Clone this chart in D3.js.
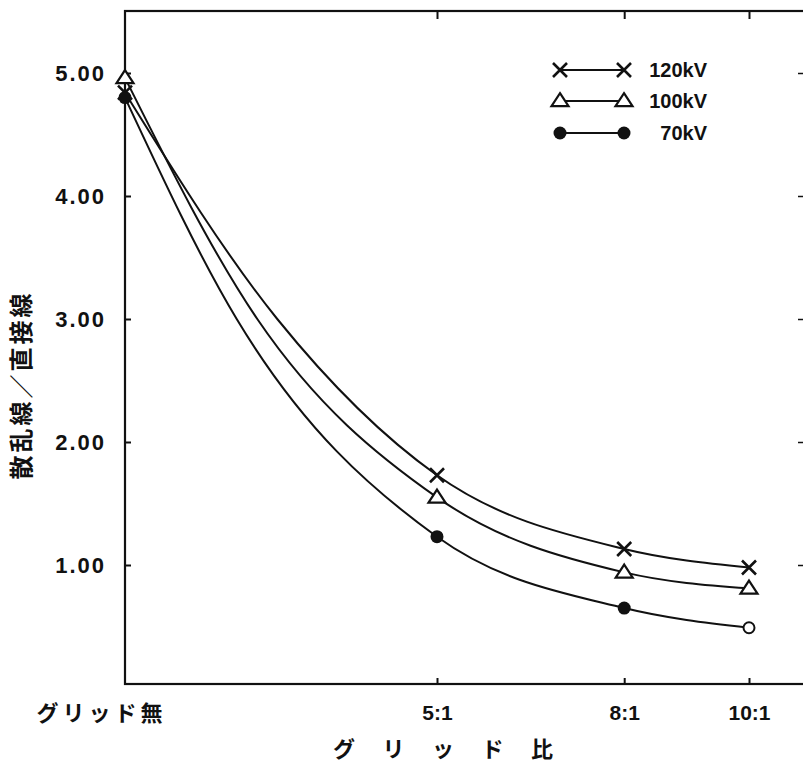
<!DOCTYPE html>
<html><head><meta charset="utf-8">
<script src="https://cdn.jsdelivr.net/npm/d3@7"></script>
<style>body{margin:0;background:#fff}</style>
</head><body>
<svg id="c" width="803" height="764"></svg>
<script>
// data points (markers)
const gridRatios = [0, 5, 8, 10];
const xTickLabels = ["グリッド無", "5:1", "8:1", "10:1"];
const yTicks = [1, 2, 3, 4, 5];
const v120 = [4.84, 1.73, 1.13, 0.98];
const v100 = [4.96, 1.55, 0.94, 0.81];
const v70 = [4.80, 1.23, 0.65, 0.49];
const seriesNames = ["120kV", "100kV", "70kV"];
const yTitle = "散乱線／直接線";
const xTitle = "グリッド比";

// hand-drawn curve path (grid ratio, value)
const trace120X = [0, 2.44, 5, 8, 10];
const trace120Y = [4.84, 3.0, 1.73, 1.13, 0.98];
const trace100X = [0, 2.12, 5, 8, 10];
const trace100Y = [4.96, 3.0, 1.55, 0.94, 0.81];
const trace70X = [0, 1.79, 5, 8, 10];
const trace70Y = [4.80, 3.0, 1.23, 0.65, 0.49];

const series = [
  {name: seriesNames[0], values: v120, marker: "x", tx: trace120X, ty: trace120Y},
  {name: seriesNames[1], values: v100, marker: "tri", tx: trace100X, ty: trace100Y},
  {name: seriesNames[2], values: v70, marker: "dot", tx: trace70X, ty: trace70Y}
];

const svg = d3.select("#c");
const L = 125, T = 11, R = 806, B = 684;
const x = d3.scaleLinear().domain([0, 10]).range([L, 749]);
const y = d3.scaleLinear().domain([0, 5]).range([688, 73]);
const ink = "#111";
const numFont = "'Liberation Sans', 'DejaVu Sans', sans-serif";
const jpFont = "'Noto Sans CJK JP', sans-serif";

// frame
svg.append("rect").attr("x", L).attr("y", T).attr("width", R - L).attr("height", B - T)
  .attr("fill", "none").attr("stroke", ink).attr("stroke-width", 2.2);

// left axis ticks (inward)
const gy = svg.append("g").attr("transform", `translate(${L},0)`)
  .call(d3.axisLeft(y).tickValues(yTicks).tickSize(-6).tickFormat(d3.format(".2f")).tickPadding(19));
gy.select(".domain").remove();
gy.selectAll("line").attr("stroke", ink).attr("stroke-width", 2);
gy.selectAll("text").attr("font-family", numFont).attr("font-size", 22).attr("font-weight", "bold")
  .attr("fill", ink).style("letter-spacing", "2px");

// right axis ticks
const gr = svg.append("g").attr("transform", `translate(${R},0)`)
  .call(d3.axisRight(y).tickValues(yTicks).tickSize(-8).tickFormat(""));
gr.select(".domain").remove();
gr.selectAll("line").attr("stroke", ink).attr("stroke-width", 1.5);

// bottom axis
const gx = svg.append("g").attr("transform", `translate(0,${B})`)
  .call(d3.axisBottom(x).tickValues(gridRatios).tickSize(-6).tickPadding(21)
    .tickFormat((d, i) => xTickLabels[i]));
gx.select(".domain").remove();
gx.selectAll("line").attr("stroke", ink).attr("stroke-width", 2).filter(d => d === 0).remove();
gx.selectAll("text").attr("font-size", 21).attr("font-weight", "bold").attr("fill", ink)
  .attr("font-family", numFont);
gx.selectAll("text").filter(d => d === 0)
  .attr("font-family", jpFont).attr("font-size", 22).style("letter-spacing", "4px").attr("dx", -24);

// top axis ticks
const gt = svg.append("g").attr("transform", `translate(0,${T})`)
  .call(d3.axisTop(x).tickValues(gridRatios.slice(1)).tickSize(-8).tickFormat(""));
gt.select(".domain").remove();
gt.selectAll("line").attr("stroke", ink).attr("stroke-width", 2);

// titles
svg.append("text").attr("transform", `translate(30,385) rotate(-90)`).attr("text-anchor", "middle")
  .attr("font-family", jpFont).attr("font-size", 24).attr("font-weight", "bold").attr("fill", ink)
  .style("letter-spacing", "3px").text(yTitle);
const xt = svg.append("text").attr("y", 757).attr("font-family", jpFont).attr("font-size", 22)
  .attr("font-weight", "bold").attr("fill", ink).attr("text-anchor", "middle");
const chars = Array.from(xTitle);
chars.forEach((ch, i) => {
  xt.append("tspan").attr("x", 344 + i * 49.5).text(ch);
});

// lines
const line = d3.line().x(d => x(d[0])).y(d => y(d[1])).curve(d3.curveMonotoneX);
svg.append("g").selectAll("path").data(series).join("path")
  .attr("d", s => line(s.tx.map((v, i) => [v, s.ty[i]])))
  .attr("fill", "none").attr("stroke", ink).attr("stroke-width", 2);

function drawMarker(g, type, cx, cy, open) {
  if (type === "x") {
    const r = 7;
    g.append("path").attr("d", `M${cx - r},${cy - r}L${cx + r},${cy + r}M${cx - r},${cy + r}L${cx + r},${cy - r}`)
      .attr("stroke", ink).attr("stroke-width", 2.6).attr("fill", "none");
  } else if (type === "tri") {
    const w = 8.5, h = 13;
    g.append("path").attr("d", `M${cx},${cy - h * 0.6}L${cx + w},${cy + h * 0.4}L${cx - w},${cy + h * 0.4}Z`)
      .attr("stroke", ink).attr("stroke-width", 2.2).attr("fill", "#fff");
  } else {
    g.append("circle").attr("cx", cx).attr("cy", cy).attr("r", open ? 5.5 : 6.5)
      .attr("fill", open ? "#fff" : ink).attr("stroke", ink).attr("stroke-width", open ? 2 : 0);
  }
}

const mg = svg.append("g");
series.forEach(s => {
  s.values.forEach((v, i) => {
    const open = s.marker === "dot" && i === s.values.length - 1;
    drawMarker(mg, s.marker, x(gridRatios[i]), y(v), open);
  });
});

// legend
const legY = [70, 101, 133];
const lg = svg.append("g");
series.forEach((s, i) => {
  const yy = legY[i];
  lg.append("line").attr("x1", 560).attr("x2", 624).attr("y1", yy).attr("y2", yy)
    .attr("stroke", ink).attr("stroke-width", 1.8);
  drawMarker(lg, s.marker, 560, yy, false);
  drawMarker(lg, s.marker, 624, yy, false);
  lg.append("text").attr("x", 707).attr("y", yy + 7).attr("text-anchor", "end")
    .attr("font-family", numFont).attr("font-size", 20).attr("font-weight", "bold").attr("fill", ink)
    .text(s.name);
});
</script>
</body></html>
